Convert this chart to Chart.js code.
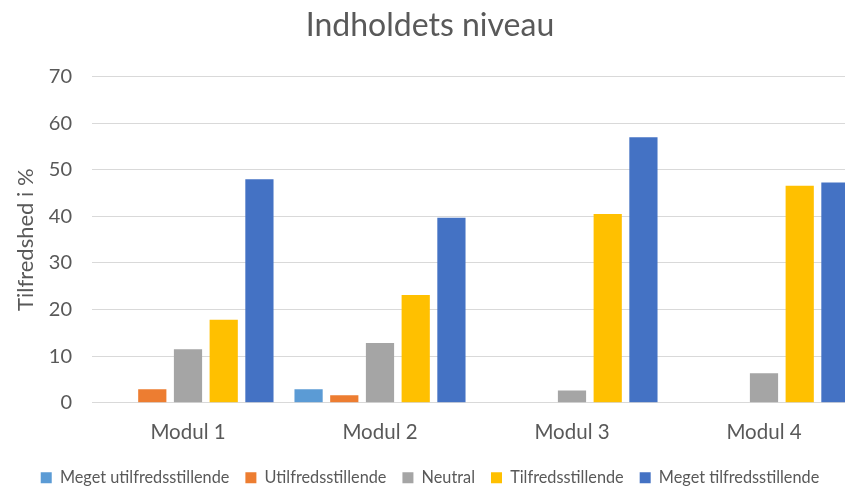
<!DOCTYPE html>
<html>
<head>
<meta charset="utf-8">
<script src="https://cdn.jsdelivr.net/npm/chart.js@4"></script>
<style>
html,body{margin:0;padding:0;background:#fff;overflow:hidden}
#wrap{width:845px;height:487px;overflow:hidden}
</style>
</head>
<body>
<div id="wrap"><canvas id="chart" width="866" height="496"></canvas></div>
<script>
const categories=["Modul 1","Modul 2","Modul 3","Modul 4"];
const seriesNames=["Meget utilfredsstillende","Utilfredsstillende","Neutral","Tilfredsstillende","Meget tilfredsstillende"];
const megetUtilfreds=[0,2.9,0,0];
const utilfreds=[2.9,1.6,0,0];
const neutral=[11.5,12.8,2.6,6.3];
const tilfreds=[17.8,23.1,40.5,46.6];
const megetTilfreds=[48.0,39.7,57.0,47.3];
const colors=["#5b9bd5","#ed7d31","#a5a5a5","#ffc000","#4472c4"];

const textColor="#595959";
const fontFam="Lato, 'Open Sans', sans-serif";

const ctx=document.getElementById("chart");
const chart=new Chart(ctx,{
  type:"bar",
  data:{
    labels:categories,
    datasets:[megetUtilfreds,utilfreds,neutral,tilfreds,megetTilfreds].map((d,i)=>({
      label:seriesNames[i],
      data:d,
      backgroundColor:colors[i],
      borderWidth:0,
      barPercentage:0.79,
      categoryPercentage:0.93
    }))
  },
  options:{
    responsive:false,
    animation:false,
    layout:{padding:{top:0,right:6,bottom:0,left:0}},
    plugins:{
      title:{
        display:true,
        text:"Indholdets niveau",
        color:textColor,
        font:{family:fontFam,size:32,weight:"normal"},
        padding:{top:6,bottom:32.3}
      },
      legend:{
        position:"bottom",
        labels:{
          color:textColor,
          font:{family:fontFam,size:16.3},
          boxWidth:11,
          boxHeight:11,
          padding:16
        }
      },
      tooltip:{enabled:false}
    },
    scales:{
      x:{
        grid:{display:false},
        border:{display:false},
        ticks:{color:textColor,font:{family:fontFam,size:20.5},padding:9},
        afterFit:s=>{s.height=51}
      },
      y:{
        min:0,max:70,
        grid:{color:"#d9d9d9",drawTicks:false},
        border:{display:false},
        ticks:{stepSize:10,color:textColor,font:{family:fontFam,size:20},padding:20},
        title:{display:true,text:"Tilfredshed i %",color:textColor,font:{family:fontFam,size:22},padding:{top:13,bottom:0}},
        afterFit:s=>{s.width=92}
      }
    }
  }
});
</script>
</body>
</html>
